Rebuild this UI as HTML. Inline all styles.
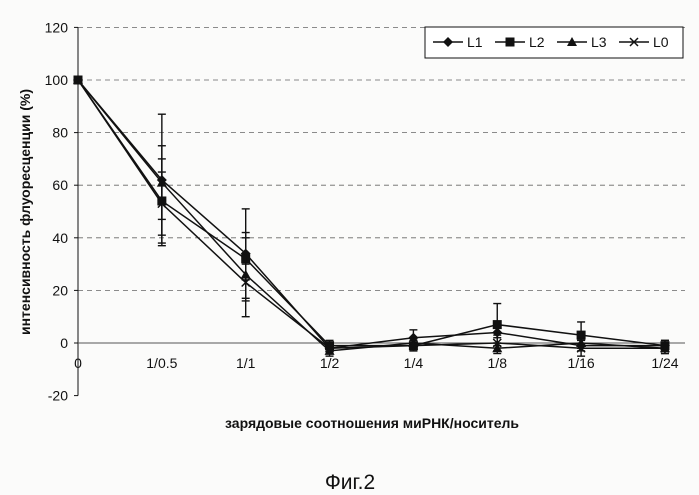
<!DOCTYPE html>
<html><head><meta charset="utf-8"><style>
body{margin:0;background:#fbfbfa;}
svg{display:block;font-family:"Liberation Sans",Arial,sans-serif;}
</style></head><body>
<svg id="chart" width="699" height="495">
<rect width="699" height="495" fill="#fbfbfa"/>
<g id="grid"></g><g id="axes"></g><g id="series"></g>
<text x="30" y="212" transform="rotate(-90 30 212)" text-anchor="middle" font-size="14" font-weight="bold" fill="#111">интенсивность флуоресценции (%)</text>
<text x="372" y="428" text-anchor="middle" font-size="14" font-weight="bold" fill="#111">зарядовые соотношения миРНК/носитель</text>
<text x="350" y="489" text-anchor="middle" font-size="21" fill="#111">Фиг.2</text>
<g id="legend"><rect x="425" y="27" width="258" height="31" fill="#fff" stroke="#111" stroke-width="1"/></g>
</svg>
<script>
const categories=["0","1/0.5","1/1","1/2","1/4","1/8","1/16","1/24"];
const yTicks=[-20,0,20,40,60,80,100,120];
const seriesNames=["L1","L2","L3","L0"];
const L1=[100,62,34,-2,2,4,-1,-1];
const L2=[100,54,32,-1,-1,7,3,-1];
const L3=[100,61,26,-3,0,-2,0,-2];
const L0=[100,53,23,-2,-1,0,-2,-2];
const E1=[0,25,17,2,3,2,2,2];
const E2=[0,16,8,2,2,8,5,2];
const E3=[0,14,16,2,2,2,2,2];
const E0=[0,12,7,2,2,3,3,2];
const NS="http://www.w3.org/2000/svg";
const X=i=>78+i*83.85;
const Y=v=>343-v*2.63;
function mk(tag,attrs,parent){const e=document.createElementNS(NS,tag);for(const k in attrs)e.setAttribute(k,attrs[k]);parent.appendChild(e);return e;}
const grid=document.getElementById('grid'),axes=document.getElementById('axes'),ser=document.getElementById('series'),leg=document.getElementById('legend');
yTicks.forEach(t=>{
 if(t>0){const l=mk('line',{x1:78,x2:685,y1:Y(t),y2:Y(t),stroke:'#666','stroke-dasharray':'5,4','stroke-width':0.8},grid);
 
 }
 const tk=mk('text',{x:68,y:Y(t)+5,'text-anchor':'end','font-size':14,fill:'#111'},axes);tk.textContent=t;
 
 
 mk('line',{x1:74,x2:78,y1:Y(t),y2:Y(t),stroke:'#111'},axes);
});
const ya=mk('line',{x1:78,x2:78,y1:Y(120),y2:Y(-20),stroke:'#111'},axes);


const xa=mk('line',{x1:78,x2:685,y1:Y(0),y2:Y(0),stroke:'#555'},axes);


categories.forEach((c,i)=>{
 const t=mk('text',{x:X(i),y:Y(0)+25,'text-anchor':'middle','font-size':14,fill:'#111'},axes);t.textContent=c;
 
 
});
function marker(type,x,y,g){
 if(type==0)return mk('polygon',{points:`${x},${y-5} ${x+5},${y} ${x},${y+5} ${x-5},${y}`,fill:'#111'},g);
 if(type==1)return mk('rect',{x:x-4.5,y:y-4.5,width:9,height:9,fill:'#111'},g);
 if(type==2)return mk('polygon',{points:`${x},${y-5} ${x+5},${y+4} ${x-5},${y+4}`,fill:'#111'},g);
 return mk('path',{d:`M${x-4},${y-4}L${x+4},${y+4}M${x+4},${y-4}L${x-4},${y+4}`,stroke:'#111','stroke-width':1.5},g);
}
const data=[L1,L2,L3,L0],errs=[E1,E2,E3,E0];
data.forEach((d,s)=>{
 const g=mk('g',{},ser);
 
 
 d.forEach((v,i)=>{const e=errs[s][i];if(e>0){
  mk('line',{x1:X(i),x2:X(i),y1:Y(v+e),y2:Y(v-e),stroke:'#111','stroke-width':1.4},g);
  mk('line',{x1:X(i)-4,x2:X(i)+4,y1:Y(v+e),y2:Y(v+e),stroke:'#111','stroke-width':1.4},g);
  mk('line',{x1:X(i)-4,x2:X(i)+4,y1:Y(v-e),y2:Y(v-e),stroke:'#111','stroke-width':1.4},g);}});
 mk('polyline',{points:d.map((v,i)=>X(i)+','+Y(v)).join(' '),fill:'none',stroke:'#111','stroke-width':1.5},g);
 d.forEach((v,i)=>{const m=marker(s,X(i),Y(v),g);
  
  });
 const lx=433+s*62;
 const le=mk('g',{},leg);
 
 
 mk('line',{x1:lx,x2:lx+30,y1:42,y2:42,stroke:'#111','stroke-width':1.5},le);
 marker(s,lx+15,42,le);
 const t=mk('text',{x:lx+34,y:47,'font-size':14,fill:'#111'},le);t.textContent=seriesNames[s];
});
</script>
</body></html>
